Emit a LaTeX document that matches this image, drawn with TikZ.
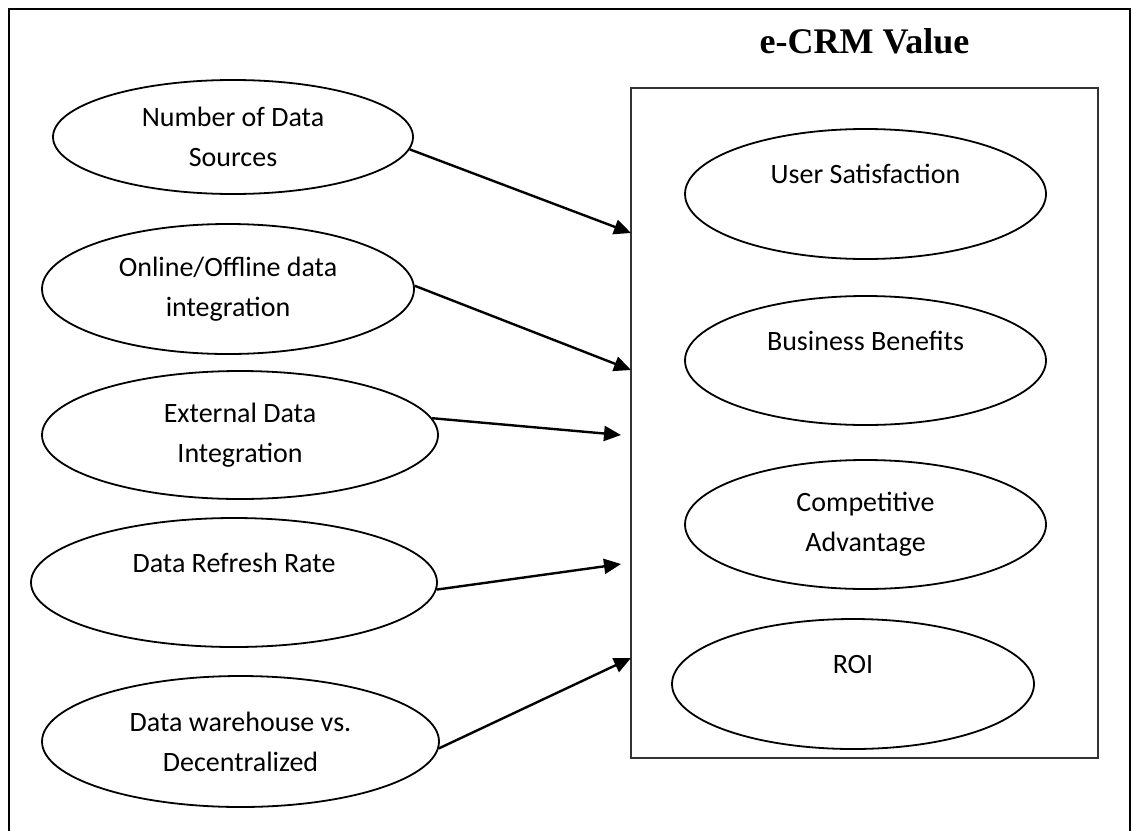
\documentclass[tikz,border=0pt]{standalone}
\usepackage{fontspec}
\setmainfont{Carlito}
\newfontfamily\headfont{Liberation Serif}
\usetikzlibrary{arrows.meta,shapes.geometric}

\begin{document}
\begin{tikzpicture}[x=0.5pt,y=-0.5pt,
  bubble/.style={draw, ellipse, line width=0.9pt, inner sep=0pt, align=center,
                 font=\fontsize{14}{20}\selectfont},
  link/.style={line width=1.2pt, -{Triangle[length=8.5pt,width=7.5pt]}},
  frameline/.style={line width=1pt}]
\useasboundingbox (0,0) rectangle (1133,830);

% outer frame, running off the bottom of the page
\begin{scope}
  \clip (0,0) rectangle (1133,830);
  \draw[frameline] (9,870) -- (9,9) -- (1130,9) -- (1130,870);
\end{scope}

% heading and the value box
\node (title) [font=\headfont\bfseries\fontsize{18}{22}\selectfont, anchor=base]
  at (864.5,53) {e-CRM Value};
\node (valuebox) [draw=black!80, line width=1pt, inner sep=0pt,
  minimum width=233.5pt, minimum height=335pt] at (864.5,423) {};

% drivers on the left
\node (e1) [bubble, minimum width=180pt, minimum height=57pt]   at (233,137)   {Number of Data\\Sources};
\node (e2) [bubble, minimum width=186pt, minimum height=65pt]   at (228,289)   {Online/Offline data\\integration};
\node (e3) [bubble, minimum width=198pt, minimum height=64pt]   at (240,435)   {External Data\\Integration};
\node (e4) [bubble, minimum width=203pt, minimum height=64.5pt] at (234,582.5) {Data Refresh Rate\\\mbox{}};
\node (e5) [bubble, minimum width=198.5pt, minimum height=65.5pt] at (240.5,741.5) {Data warehouse vs.\\Decentralized};

% value dimensions inside the box
\node (r1) [bubble, minimum width=180.5pt, minimum height=65pt]   at (865.5,194)   {User Satisfaction\\\mbox{}};
\node (r2) [bubble, minimum width=180.5pt, minimum height=64.5pt] at (865.5,360.5) {Business Benefits\\\mbox{}};
\node (r3) [bubble, minimum width=180.5pt, minimum height=64.5pt] at (865.5,524.5) {Competitive\\Advantage};
\node (r4) [bubble, minimum width=181pt, minimum height=65pt]     at (853,684)     {ROI\\\mbox{}};

% arrow targets at the box
\coordinate (t1) at (631,233);
\coordinate (t2) at (631,370);
\coordinate (t3) at (621,435);
\coordinate (t4) at (621,564);
\coordinate (t5) at (631,658);

\draw[link] (e1.-4)   -- (t1);
\draw[link] (e2.1)    -- (t2);
\draw[link] (e3.5.8)  -- (t3);
\draw[link] (e4.-2.1) -- (t4);
\draw[link] (e5.-2.3) -- (t5);
\end{tikzpicture}
\end{document}
